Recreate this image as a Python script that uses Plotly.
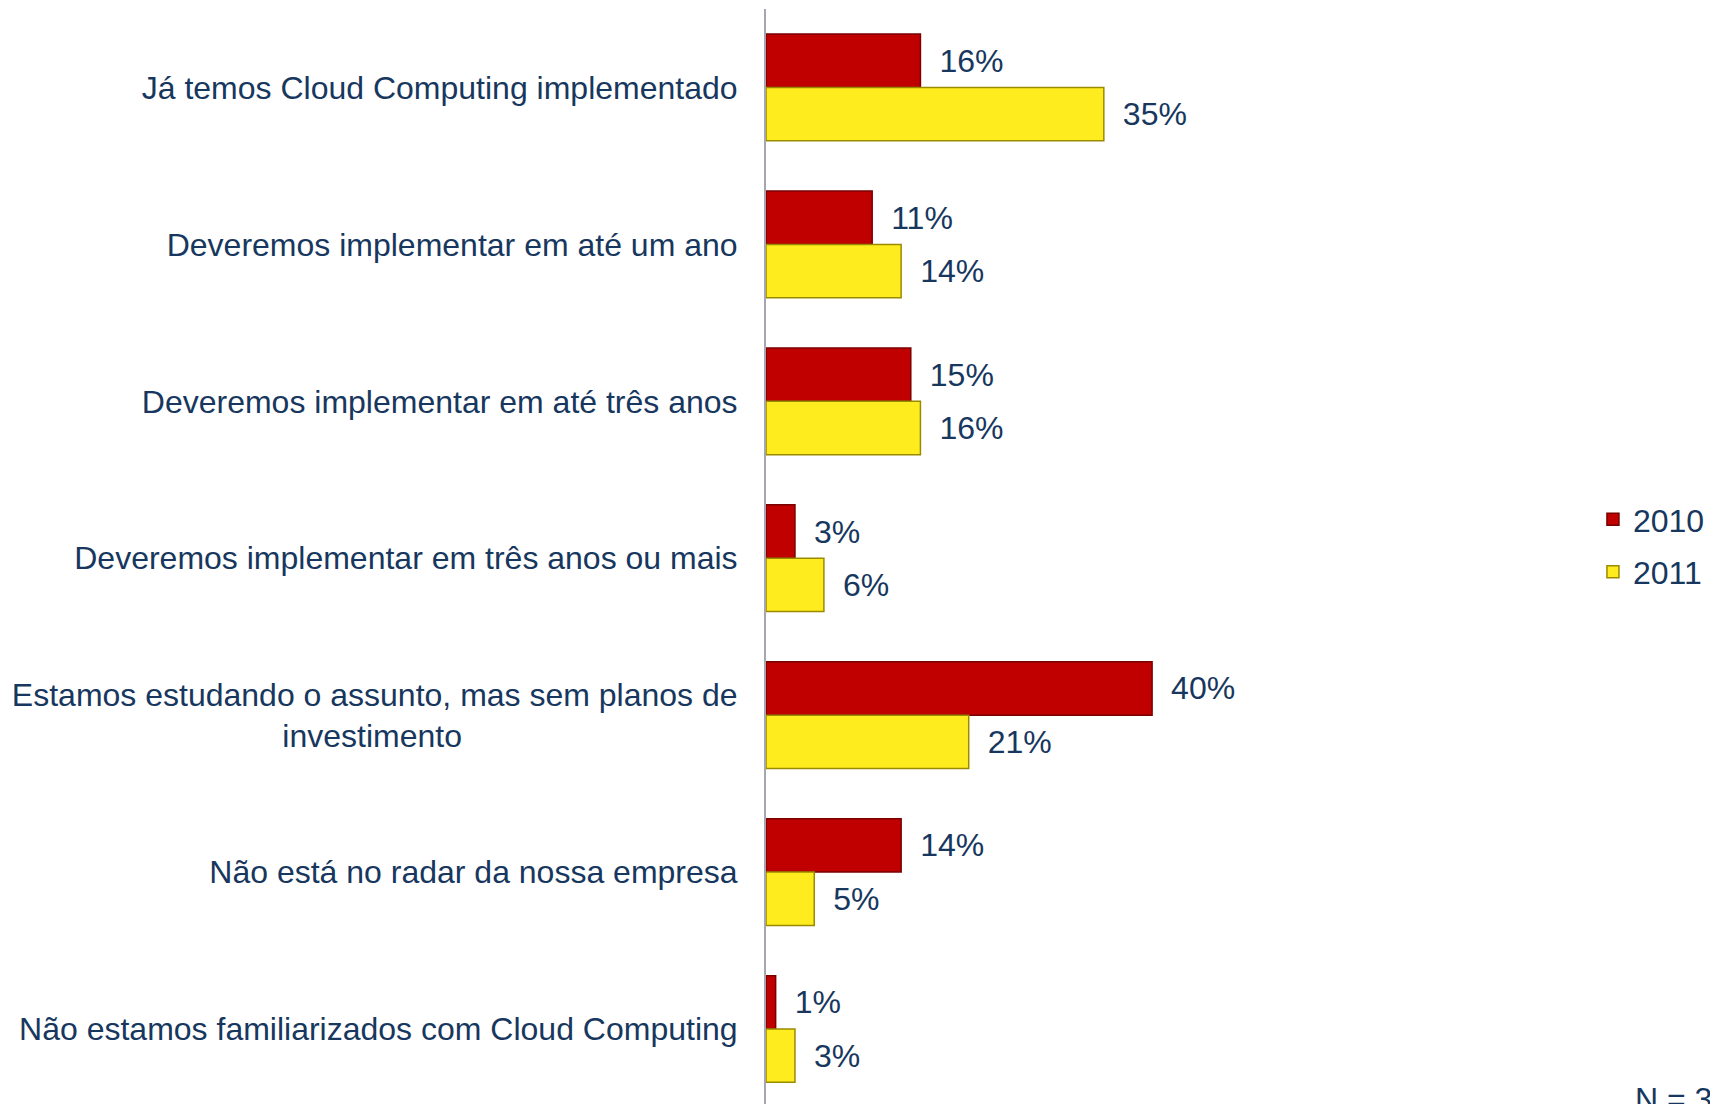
import plotly.graph_objects as go

categories = [
    "Já temos Cloud Computing implementado",
    "Deveremos implementar em até um ano",
    "Deveremos implementar em até três anos",
    "Deveremos implementar em três anos ou mais",
    "Estamos estudando o assunto, mas sem planos de<br>investimento" + "\u00a0" * 31,
    "Não está no radar da nossa empresa",
    "Não estamos familiarizados com Cloud Computing",
]
values_2010 = [16, 11, 15, 3, 40, 14, 1]
values_2011 = [35, 14, 16, 6, 21, 5, 3]
series_names = ["2010", "2011"]

NAVY = "#17375E"
FONT = "Arial, Liberation Sans, sans-serif"
FS = 32

fig = go.Figure()
fig.add_trace(go.Bar(
    y=categories, x=values_2010, orientation="h", name=series_names[0],
    legendgroup="a",
    marker=dict(color="#C00000", line=dict(color="#7A0000", width=1.5)),
    text=["\u2002" + f"{v}%" for v in values_2010], textposition="outside",
    textfont=dict(family=FONT, size=FS, color=NAVY), cliponaxis=False,
))
fig.add_trace(go.Bar(
    y=categories, x=values_2011, orientation="h", name=series_names[1],
    legendgroup="b",
    marker=dict(color="#FFEC1F", line=dict(color="#9A8A00", width=1.5)),
    text=["\u2002" + f"{v}%" for v in values_2011], textposition="outside",
    textfont=dict(family=FONT, size=FS, color=NAVY), cliponaxis=False,
))

fig.update_layout(
    width=1710, height=1104,
    margin=dict(l=766, r=0, t=9, b=0),
    paper_bgcolor="white", plot_bgcolor="white",
    barmode="group", bargap=0.32, bargroupgap=0,
    font=dict(family=FONT, size=FS, color=NAVY),
    showlegend=True,
    legend=dict(x=0.876, y=0.559, xanchor="left", yanchor="top",
                font=dict(family=FONT, size=FS, color=NAVY),
                tracegroupgap=8, bgcolor="rgba(0,0,0,0)"),
    xaxis=dict(range=[0, 97.8], showgrid=False, zeroline=False,
               showticklabels=False, showline=False),
    yaxis=dict(range=[6.478, -0.5], showgrid=False, zeroline=False,
               showline=True, linecolor="#A6A6B0", linewidth=2,
               ticks="", ticklabelstandoff=20,
               tickfont=dict(family=FONT, size=FS, color=NAVY)),
    annotations=[dict(text="N = 300", xref="paper", yref="paper",
                      x=0.9185, y=0, xanchor="left", yanchor="top",
                      yshift=25, showarrow=False,
                      font=dict(family=FONT, size=FS, color=NAVY))],
)

fig.write_html("out.html",
               config={"displayModeBar": False},
               post_script="document.body.style.margin='0';document.body.style.overflow='hidden';")
